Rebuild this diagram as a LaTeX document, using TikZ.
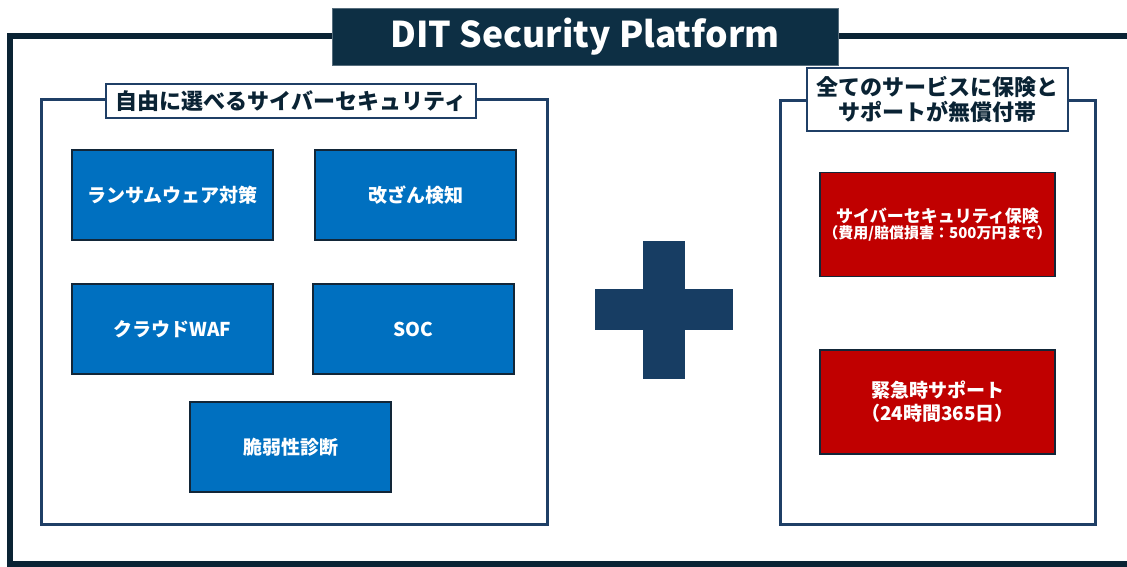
\documentclass[tikz,border=0pt]{standalone}
\usepackage{fontspec}
\newfontfamily\jp{Noto Sans CJK JP}
\definecolor{framenavy}{RGB}{10,35,52}
\definecolor{titlenavy}{RGB}{13,47,68}
\definecolor{panelblue}{RGB}{31,63,102}
\definecolor{plusblue}{RGB}{23,61,99}
\definecolor{svcblue}{RGB}{0,112,192}
\definecolor{insred}{RGB}{192,0,0}
\definecolor{edgedark}{RGB}{18,38,56}
\tikzset{
  svcbox/.style={draw=edgedark, line width=1.5pt, fill=svcblue, text=white,
    minimum width=201pt, minimum height=90pt, inner sep=0pt,
    font=\jp\bfseries\fontsize{19}{23}\selectfont},
  insbox/.style={draw=edgedark, line width=1.5pt, fill=insred, text=white,
    minimum width=235pt, minimum height=104pt, inner sep=0pt, align=center},
  tagbox/.style={draw=panelblue, line width=2.5pt, fill=white, text=framenavy,
    inner sep=0pt, align=center, font=\jp\bfseries\fontsize{22}{25}\selectfont},
  panel/.style={draw=panelblue, line width=3pt}
}
\begin{document}
\begin{tikzpicture}[x=1pt,y=-1pt]
  \useasboundingbox[fill=white] (0,0) rectangle (1127,567);
  \clip (0,0) rectangle (1127,567);
  % outer frame
  \draw[framenavy, line width=6.5pt] (1140,36) -- (10,36) -- (10,564) -- (1140,564);
  \node[fill=titlenavy, draw=titlenavy!70!white, line width=0.8pt, text=white,
    minimum width=506pt, minimum height=57pt, inner sep=0pt,
    font=\jp\bfseries\fontsize{35.5}{40}\selectfont] (title) at (585,37) {DIT Security Platform};

  % left panel
  \draw[panel] (41,100) rectangle (547,524);
  \node[tagbox, minimum width=370pt, minimum height=34pt] (freetag) at (291,101)
    {自由に選べるサイバーセキュリティ};
  \node[svcbox] (ransom) at (172.5,195) {ランサムウェア対策};
  \node[svcbox] (tamper) at (415.5,195) {改ざん検知};
  \node[svcbox] (waf) at (172.5,329) {クラウドWAF};
  \node[svcbox] (soc) at (413.5,329) {SOC};
  \node[svcbox] (vuln) at (290.5,447) {脆弱性診断};

  % plus
  \fill[plusblue] (642.5,241) rectangle (684.5,378.5);
  \fill[plusblue] (594.5,289) rectangle (732.5,330);

  % right panel
  \draw[panel] (780,101) rectangle (1095,524);
  \node[tagbox, minimum width=261pt, minimum height=63pt] (freetag2) at (937.5,99.5)
    {全てのサービスに保険と\\サポートが無償付帯};
  \node[insbox] (cyber) at (937.5,224.5)
    {{\jp\bfseries\fontsize{17}{21}\selectfont サイバーセキュリティ保険}\\[1pt]
     {\jp\bfseries\fontsize{15}{17}\selectfont （費用/賠償損害：500万円まで）}};
  \node[insbox, font=\jp\bfseries\fontsize{19}{23}\selectfont] (urgent) at (937.5,402)
    {緊急時サポート\\（24時間365日）};
\end{tikzpicture}
\end{document}
